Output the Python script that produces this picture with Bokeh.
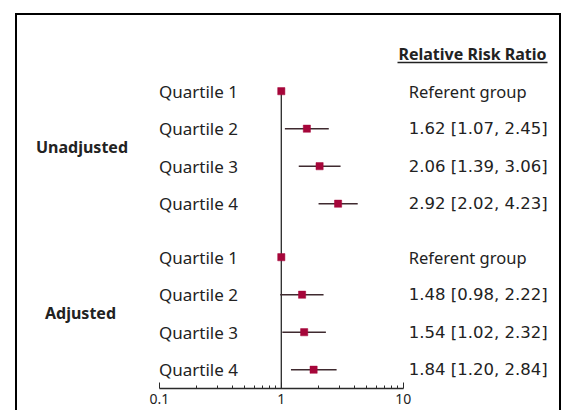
import math
from bokeh.plotting import figure
from bokeh.models import Range1d, FixedTicker, ColumnDataSource
from bokeh.core.properties import value
from bokeh.embed import file_html
from bokeh.resources import INLINE

# ---------------- data ----------------
groups = ["Unadjusted", "Adjusted"]
quartiles = ["Quartile 1", "Quartile 2", "Quartile 3", "Quartile 4"]
unadj_rr = [1.00, 1.62, 2.06, 2.92]
unadj_lo = [float("nan"), 1.07, 1.39, 2.02]
unadj_hi = [float("nan"), 2.45, 3.06, 4.23]
adj_rr = [1.00, 1.48, 1.54, 1.84]
adj_lo = [float("nan"), 0.98, 1.02, 1.20]
adj_hi = [float("nan"), 2.22, 2.32, 2.84]
referent_text = "Referent group"
header_text = "Relative Risk Ratio"
tick_values = [0.1, 1, 10]
tick_labels = ["0.1", "1", "10"]

# ---------------- layout (page pixels) ----------------
OX, OY = 17, 15          # canvas origin inside the css border
W, H = 546, 397
X_ONE = 280.8            # page px of x = 1
DECADE = 122.0           # px per decade
Y_ROW0 = 90.7            # page px of first row
ROW = 37.5               # px per row
GAP = 4.427              # row index of first adjusted row
AXIS_Y = 388             # page px of axis line


def xd(page_x):
    return 10 ** ((page_x - X_ONE) / DECADE)


def yd(page_y):
    return (page_y - Y_ROW0) / ROW


FONT = value("Noto Sans")
TXT = "#222222"

p = figure(width=W, height=H, x_axis_type="log", output_backend="svg",
           toolbar_location=None, y_axis_location=None,
           x_range=Range1d(xd(OX), xd(OX + W)),
           y_range=Range1d(yd(AXIS_Y), yd(OY)),
           min_border_left=0, min_border_right=0, min_border_top=0,
           min_border_bottom=OY + H - AXIS_Y)
p.styles = {"margin-left": f"{OX - 2}px", "margin-top": f"{OY - 2}px",
            "border-left": "2px solid black", "border-top": "2px solid black",
            "border-right": "2px solid black"}
p.outline_line_color = None
p.xgrid.visible = False
p.ygrid.visible = False
p.background_fill_color = "white"
p.border_fill_color = "white"

rows_u = [float(i) for i in range(4)]
rows_a = [GAP + i for i in range(4)]
ys = rows_u + rows_a
rr = unadj_rr + adj_rr
lo = unadj_lo + adj_lo
hi = unadj_hi + adj_hi
labels = quartiles + quartiles


def fmt(r, l, h):
    if math.isnan(l):
        return referent_text
    return f"{r:.2f} [{l:.2f}, {h:.2f}]"


rtext = [fmt(r, l, h) for r, l, h in zip(rr, lo, hi)]
rfont = ["Noto Sans" if math.isnan(l) else "DejaVu Sans" for l in lo]

src = ColumnDataSource(dict(y=ys, rr=rr, lo=lo, hi=hi, lab=labels, rtext=rtext,
                            rfont=rfont, xl=[xd(158.5)] * 8, xr=[xd(408.3)] * 8))

# reference line at 1
p.segment(x0=[1], y0=[yd(89)], x1=[1], y1=[yd(AXIS_Y)],
          line_color="#2a2a2a", line_width=1.3)

# CI lines
p.segment(x0="lo", y0="y", x1="hi", y1="y", source=src,
          line_color="#3f2a2f", line_width=1.6)
# point estimates
p.scatter(x="rr", y="y", source=src, marker="square", size=7.2,
          fill_color="#A6063A", line_color="#A6063A", line_width=0.5)

# texts
p.text(x="xl", y="y", text="lab", source=src, text_font=FONT,
       text_font_size="17px", text_color=TXT, text_align="left", text_baseline="middle")
p.text(x="xr", y="y", text="rtext", source=src, text_font="rfont",
       text_font_size="16.5px", text_color=TXT, text_align="left", text_baseline="middle")

gsrc = ColumnDataSource(dict(x=[xd(81.5), xd(80)], y=[(rows_u[1] + rows_u[2]) / 2,
                                                       (rows_a[1] + rows_a[2]) / 2],
                             t=groups))
p.text(x="x", y="y", text="t", source=gsrc, text_font=FONT, text_font_size="16px",
       text_font_style="bold", text_color=TXT, text_align="center",
       text_baseline="middle")

p.text(x=[xd(472)], y=[yd(53.5)], text=[header_text], text_font=FONT,
       text_font_size="16px", text_font_style="bold", text_color=TXT,
       text_align="center", text_baseline="middle")
p.segment(x0=[xd(397)], y0=[yd(62)], x1=[xd(547)], y1=[yd(62)],
          line_color=TXT, line_width=1.4)

# axis
ax = p.xaxis[0]
minor = [m * 0.1 for m in range(2, 10)] + [float(m) for m in range(2, 10)]
ax.ticker = FixedTicker(ticks=tick_values, minor_ticks=minor)
ax.bounds = (tick_values[0], tick_values[-1])
ax.major_label_overrides = {v: l for v, l in zip(tick_values, tick_labels)}
ax.axis_line_color = "#2a2a2a"
ax.axis_line_width = 1.3
ax.major_tick_line_color = "#2a2a2a"
ax.minor_tick_line_color = "#2a2a2a"
ax.major_tick_in = 6
ax.major_tick_out = 0
ax.minor_tick_in = 3
ax.minor_tick_out = 0
ax.major_label_standoff = 5
ax.major_label_text_font = "Noto Sans"
ax.major_label_text_font_size = "14px"
ax.major_label_text_color = TXT

open("out.html", "w").write(file_html(p, INLINE))
